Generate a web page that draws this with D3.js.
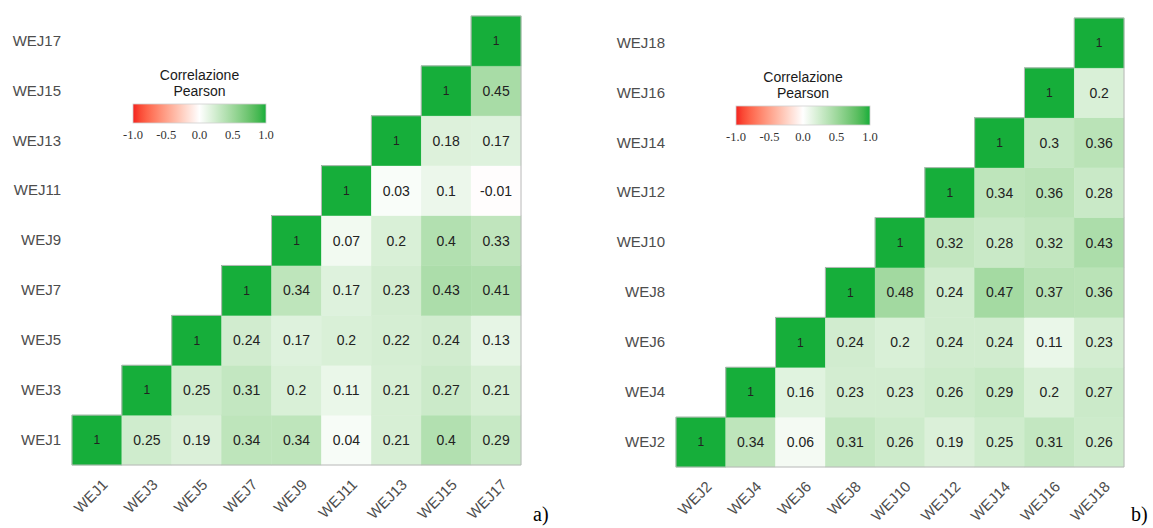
<!DOCTYPE html>
<html>
<head>
<meta charset="utf-8">
<script src="https://cdn.jsdelivr.net/npm/d3@7/dist/d3.min.js"></script>
<style>
  html, body { margin: 0; padding: 0; background: #fff; }
  svg { display: block; }
</style>
</head>
<body>
<svg id="chart" width="1153" height="528"></svg>
<script>
// Panel a) — odd-numbered variables
const labelsA = ["WEJ1", "WEJ3", "WEJ5", "WEJ7", "WEJ9", "WEJ11", "WEJ13", "WEJ15", "WEJ17"];
// Upper triangle, row by row: each row starts at its diagonal cell
const rowsA = [
  [1, 0.25, 0.19, 0.34, 0.34, 0.04, 0.21, 0.4, 0.29],
  [1, 0.25, 0.31, 0.2, 0.11, 0.21, 0.27, 0.21],
  [1, 0.24, 0.17, 0.2, 0.22, 0.24, 0.13],
  [1, 0.34, 0.17, 0.23, 0.43, 0.41],
  [1, 0.07, 0.2, 0.4, 0.33],
  [1, 0.03, 0.1, -0.01],
  [1, 0.18, 0.17],
  [1, 0.45],
  [1]
];

// Panel b) — even-numbered variables
const labelsB = ["WEJ2", "WEJ4", "WEJ6", "WEJ8", "WEJ10", "WEJ12", "WEJ14", "WEJ16", "WEJ18"];
const rowsB = [
  [1, 0.34, 0.06, 0.31, 0.26, 0.19, 0.25, 0.31, 0.26],
  [1, 0.16, 0.23, 0.23, 0.26, 0.29, 0.2, 0.27],
  [1, 0.24, 0.2, 0.24, 0.24, 0.11, 0.23],
  [1, 0.48, 0.24, 0.47, 0.37, 0.36],
  [1, 0.32, 0.28, 0.32, 0.43],
  [1, 0.34, 0.36, 0.28],
  [1, 0.3, 0.36],
  [1, 0.2],
  [1]
];

const legendTicks = [-1.0, -0.5, 0.0, 0.5, 1.0];
const legendTitle = ["Correlazione", "Pearson"];

const color = d3.scaleLinear()
  .domain([-1, 0, 1])
  .range(["#f4231f", "#ffffff", "#16ae3a"])
  .interpolate(d3.interpolateLab);

const svg = d3.select("#chart");

// shared gradient for the colour bar
const defs = svg.append("defs");
const grad = defs.append("linearGradient").attr("id", "corrGrad")
  .attr("x1", "0%").attr("x2", "100%").attr("y1", "0%").attr("y2", "0%");
d3.range(0, 1.0001, 0.05).forEach(t => {
  grad.append("stop").attr("offset", (t * 100) + "%").attr("stop-color", color(-1 + 2 * t));
});

function panel(cfg) {
  const { labels, rows, x0, x1, y0, y1, legend, tag } = cfg;
  const g = svg.append("g");
  const x = d3.scaleBand().domain(labels).range([x0, x1]);
  const y = d3.scaleBand().domain(labels).range([y1, y0]);

  const cells = [];
  rows.forEach((row, i) => {
    row.forEach((v, k) => {
      cells.push({ row: labels[i], col: labels[i + k], value: v });
    });
  });

  g.selectAll("rect.cell").data(cells).join("rect")
    .attr("class", "cell")
    .attr("x", d => x(d.col))
    .attr("y", d => y(d.row))
    .attr("width", x.bandwidth())
    .attr("height", y.bandwidth())
    .attr("fill", d => color(d.value))
    .attr("stroke", d => color(d.value))
    .attr("stroke-width", 0.5);

  // staircase outline around the triangle
  const n = labels.length;
  const pts = [[x0, y1], [x1, y1], [x1, y0]];
  for (let i = n - 1; i >= 0; i--) {
    const lx = x(labels[i]);
    const ty = y(labels[i]);
    pts.push([lx, ty]);
    pts.push([lx, ty + y.bandwidth()]);
  }
  g.append("path")
    .attr("d", d3.line()(pts))
    .attr("fill", "none")
    .attr("stroke", "#b8b8b8")
    .attr("stroke-width", 1);

  g.selectAll("text.val").data(cells).join("text")
    .attr("class", "val")
    .attr("x", d => x(d.col) + x.bandwidth() / 2)
    .attr("y", d => y(d.row) + y.bandwidth() / 2)
    .attr("dy", "0.36em")
    .attr("text-anchor", "middle")
    .attr("font-family", "Liberation Sans, Arial, sans-serif")
    .attr("font-size", d => d.value === 1 ? 12 : 14)
    .attr("fill", "#222")
    .text(d => d.value);

  // axes
  const ax = g.append("g").attr("transform", `translate(0,${y1})`)
    .call(d3.axisBottom(x).tickSize(0).tickPadding(0));
  ax.select(".domain").remove();
  ax.selectAll("text")
    .attr("font-family", "Liberation Sans, Arial, sans-serif")
    .attr("font-size", 15)
    .attr("fill", "#4d4d4d")
    .attr("text-anchor", "end")
    .attr("x", 0).attr("y", 0).attr("dy", "0.35em")
    .attr("transform", "translate(8,17) rotate(-45)");

  const ay = g.append("g").attr("transform", `translate(${x0},0)`)
    .call(d3.axisLeft(y).tickSize(0).tickPadding(11));
  ay.select(".domain").remove();
  ay.selectAll("text")
    .attr("font-family", "Liberation Sans, Arial, sans-serif")
    .attr("font-size", 15)
    .attr("fill", "#4d4d4d");

  // legend
  const L = legend;
  const lg = g.append("g");
  lg.selectAll("text.title").data(legendTitle).join("text")
    .attr("class", "title")
    .attr("x", (L.bx0 + L.bx1) / 2)
    .attr("y", (d, i) => L.ty + i * 15.5)
    .attr("text-anchor", "middle")
    .attr("font-family", "Liberation Sans, Arial, sans-serif")
    .attr("font-size", 14)
    .attr("fill", "#1a1a1a")
    .text(d => d);
  lg.append("rect")
    .attr("x", L.bx0).attr("y", L.by)
    .attr("width", L.bx1 - L.bx0).attr("height", L.bh)
    .attr("fill", "url(#corrGrad)")
    .attr("stroke", "#cfcfcf").attr("stroke-width", 0.8);
  const ls = d3.scaleLinear().domain([-1, 1]).range([L.bx0, L.bx1]);
  lg.selectAll("text.tick").data(legendTicks).join("text")
    .attr("class", "tick")
    .attr("x", d => ls(d))
    .attr("y", L.by + L.bh + 16)
    .attr("text-anchor", "middle")
    .attr("font-family", "Liberation Serif, Times New Roman, serif")
    .attr("font-size", 12.5)
    .attr("fill", "#333")
    .text(d => d.toFixed(1));

  svg.append("text")
    .attr("x", tag.x).attr("y", tag.y)
    .attr("font-family", "Liberation Serif, Times New Roman, serif")
    .attr("font-size", 20)
    .attr("fill", "#000")
    .text(tag.text);
}

panel({
  labels: labelsA, rows: rowsA,
  x0: 72, x1: 521, y0: 16, y1: 465,
  legend: { bx0: 133, bx1: 266, by: 104, bh: 19, ty: 80 },
  tag: { x: 533, y: 521, text: "a)" }
});

panel({
  labels: labelsB, rows: rowsB,
  x0: 676, x1: 1124, y0: 18, y1: 467,
  legend: { bx0: 736, bx1: 870, by: 106, bh: 19, ty: 82 },
  tag: { x: 1131, y: 521, text: "b)" }
});
</script>
</body>
</html>
